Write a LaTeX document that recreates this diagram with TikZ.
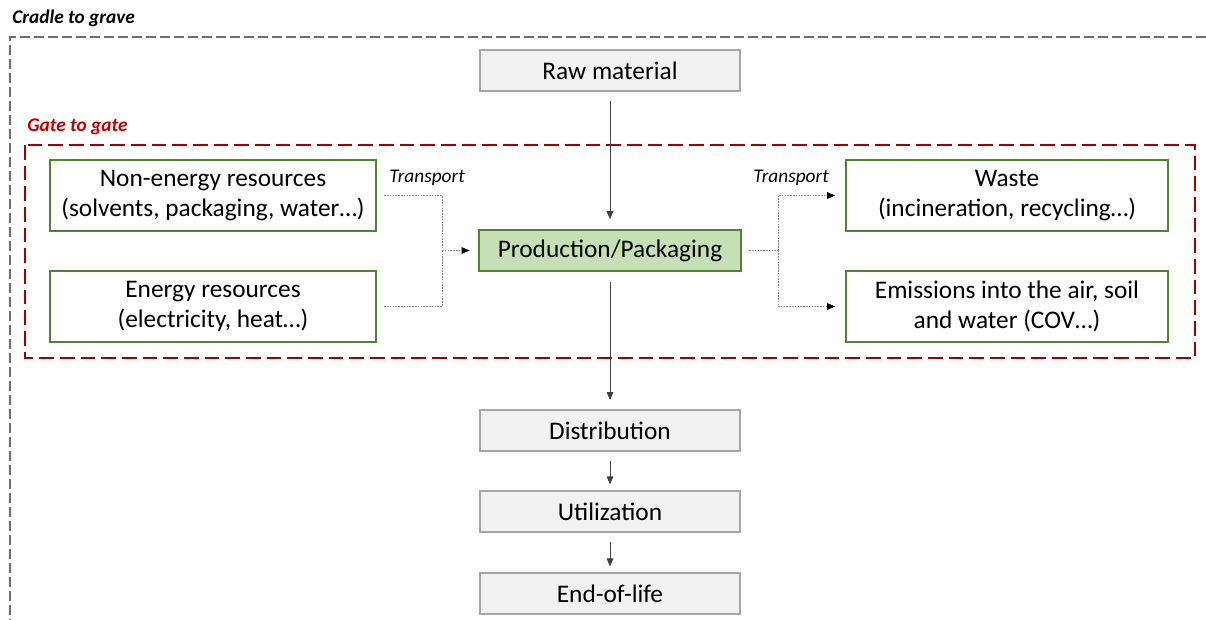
\documentclass[tikz,border=0pt]{standalone}
\usepackage{fontspec}
\setmainfont{Carlito}
\usetikzlibrary{arrows.meta}

\begin{document}
\begin{tikzpicture}[x=0.75pt, y=-0.75pt,
    grey-box/.style={rectangle, draw=box-grey, fill=fill-grey, line width=0.9pt,
        minimum width=195pt, minimum height=30.75pt, inner sep=0pt,
        font=\fontsize{19}{22}\selectfont},
    green-box/.style={rectangle, draw=green-tone, line width=2.2pt,
        minimum width=244.5pt, minimum height=53.25pt, inner sep=0pt, align=center,
        font=\fontsize{19}{22}\selectfont},
    flow/.style={-{Triangle[length=6pt, width=5pt]}, line width=0.6pt, black!75},
    dotline/.style={dash pattern=on 1.2pt off 0.9pt, line width=0.6pt, black!45},
    dotarrow/.style={dotline, -{Triangle[length=6pt, width=5pt, color=black]}},
    tag/.style={font=\fontsize{14.5}{17}\selectfont\itshape, inner sep=0pt}
]
    % Definitions
    \definecolor{box-grey}{RGB}{166, 166, 166}
    \definecolor{fill-grey}{RGB}{242, 242, 242}
    \definecolor{green-tone}{RGB}{84, 130, 53}
    \definecolor{green-fill}{RGB}{197, 224, 180}
    \definecolor{gate-red}{RGB}{192, 0, 0}
    \definecolor{frame-grey}{RGB}{110, 110, 110}

    \useasboundingbox (0,0) rectangle (1206,620);

    % Frames
    \draw[frame-grey, line width=1.1pt, dash pattern=on 7.5pt off 3pt]
        (1206,37) -- (10,37) -- (10,620);
    \node[tag, font=\fontsize{14.5}{17}\selectfont\bfseries\itshape, anchor=west]
        (cradle) at (12,18) {Cradle to grave};
    \draw[gate-red!85!black, line width=1.5pt, dash pattern=on 11pt off 4.5pt]
        (25,145) rectangle (1195,358);
    \node[tag, font=\fontsize{14.5}{17}\selectfont\bfseries\itshape, text=gate-red,
          anchor=west] (gate) at (27,127) {Gate to gate};

    % Main chain
    \node[grey-box] (raw) at (610,70.5) {Raw material};
    \node[green-box, fill=green-fill, minimum width=196.5pt, minimum height=30.75pt]
        (prod) at (610,250.5) {Production/Packaging};
    \node[grey-box] (distrib) at (610,430.5) {Distribution};
    \node[grey-box] (util) at (610,511.5) {Utilization};
    \node[grey-box] (eol) at (610,593.5) {End-of-life};

    % Inputs
    \node[green-box] (nonenergy) at (213,195.5)
        {Non-energy resources\\(solvents, packaging, water\dots)};
    \node[green-box] (energy) at (213,306.5)
        {Energy resources\\(electricity, heat\dots)};

    % Outputs
    \node[green-box, minimum width=241.5pt] (waste) at (1007,195.5)
        {Waste\\(incineration, recycling\dots)};
    \node[green-box, minimum width=241.5pt] (emission) at (1007,306.5)
        {Emissions into the air, soil\\and water (COV\dots)};

    % Flow arrows
    \draw[flow] ([yshift=-7pt]raw.south) -- ([yshift=7pt]prod.north);
    \draw[flow] ([yshift=-7pt]prod.south) -- ([yshift=7pt]distrib.north);
    \draw[flow] ([yshift=-7pt]distrib.south) -- ([yshift=4.5pt]util.north);
    \draw[flow] ([yshift=-7pt]util.south) -- ([yshift=4.5pt]eol.north);

    % Transport
    \coordinate (joinL) at (442,250.5);
    \coordinate (joinR) at (778,250.5);
    \draw[dotline] ([xshift=5pt]nonenergy.east) -| (joinL);
    \draw[dotline] ([xshift=5pt]energy.east) -| (joinL);
    \draw[dotarrow] (joinL) -- ([xshift=-6pt]prod.west);
    \draw[dotline] ([xshift=5pt]prod.east) -- (joinR);
    \draw[dotarrow] (joinR) |- ([xshift=-7pt]waste.west);
    \draw[dotarrow] (joinR) |- ([xshift=-7pt]emission.west);
    \node[tag] (transL) at (427,178) {Transport};
    \node[tag] (transR) at (791,178) {Transport};
\end{tikzpicture}
\end{document}
